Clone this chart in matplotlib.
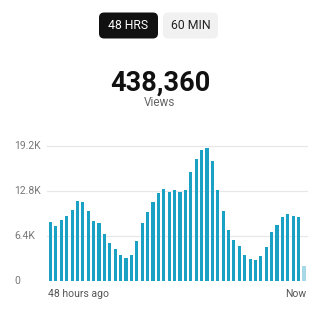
import matplotlib
matplotlib.use("Agg")
import matplotlib.pyplot as plt
from matplotlib.patches import FancyBboxPatch

plt.rcParams['font.family'] = ['Roboto', 'DejaVu Sans']

# hourly views over the last 48 hours (thousands); last hour still filling in
hourly_views = [8.4, 7.8, 8.7, 9.3, 10.1, 11.4, 11.3, 9.95, 8.5, 8.3,
                6.7, 5.4, 4.5, 3.65, 3.3, 3.7, 5.7, 8.3, 9.75, 11.3,
                12.5, 13.1, 12.6, 12.9, 12.6, 12.9, 15.5, 17.3, 18.6, 18.9,
                17.1, 13.0, 9.9, 7.3, 5.8, 5.0, 3.7, 3.1, 3.0, 3.6,
                4.8, 6.9, 8.0, 9.1, 9.55, 9.3, 9.05, 2.1]
y_ticks = [0, 6.4, 12.8, 19.2]
y_tick_labels = ['0', '6.4K', '12.8K', '19.2K']
total_views = '438,360'
tabs = ['48 HRS', '60 MIN']

W = H = 320
fig = plt.figure(figsize=(3.2, 3.2), dpi=100)
fig.patch.set_facecolor('white')

def fx(px):
    return px / W

def fy(py):
    return 1 - py / H

# period toggle buttons
btn_boxes = [(99, 12.5, 59, 26), (163, 12.5, 55, 26)]
btn_face = ['#111111', '#f1f1f1']
btn_text = ['white', '#222222']
for (x, y, w, h), label, fc, tc in zip(btn_boxes, tabs, btn_face, btn_text):
    fig.patches.append(FancyBboxPatch((fx(x), fy(y + h)), fx(w), h / H,
                                      boxstyle='round,pad=0,rounding_size=0.016',
                                      transform=fig.transFigure, fc=fc, ec='none'))
    fig.text(fx(x + w / 2), fy(y + h / 2), label, ha='center', va='center',
             fontsize=8.8, color=tc)

fig.text(0.5, fy(83), total_views, ha='center', va='center',
         fontsize=19.5, fontweight='bold', color='#111111')
fig.text(0.5, fy(103), 'Views', ha='center', va='center',
         fontsize=8.5, color='#666666')

# bar chart area
left, right, top, base = 47, 307, 146, 281
ax = fig.add_axes([fx(left), fy(base), fx(right - left), (base - top) / H])
ax.set_xlim(-0.65, len(hourly_views) - 0.45)
ax.set_ylim(0, y_ticks[-1])
ax.axis('off')

for t in y_ticks[1:]:
    ax.axhline(t, color='#e8e8e8', lw=0.9, zorder=0, clip_on=False)

colors = ['#1ba1c3'] * (len(hourly_views) - 1) + ['#a6d8e8']
ax.bar(range(len(hourly_views)), hourly_views, width=0.58, color=colors, zorder=2)

for t, lab in zip(y_ticks, y_tick_labels):
    y = ax.transData.transform((0, t))[1] / fig.bbox.height
    fig.text(fx(14), y, lab, ha='left', va='center', fontsize=7.5, color='#777777')

fig.text(fx(48), fy(294), '48 hours ago', ha='left', va='center',
         fontsize=7.5, color='#555555')
fig.text(fx(306), fy(294), 'Now', ha='right', va='center',
         fontsize=7.5, color='#555555')

fig.savefig('out.png', dpi=100, facecolor='white')
